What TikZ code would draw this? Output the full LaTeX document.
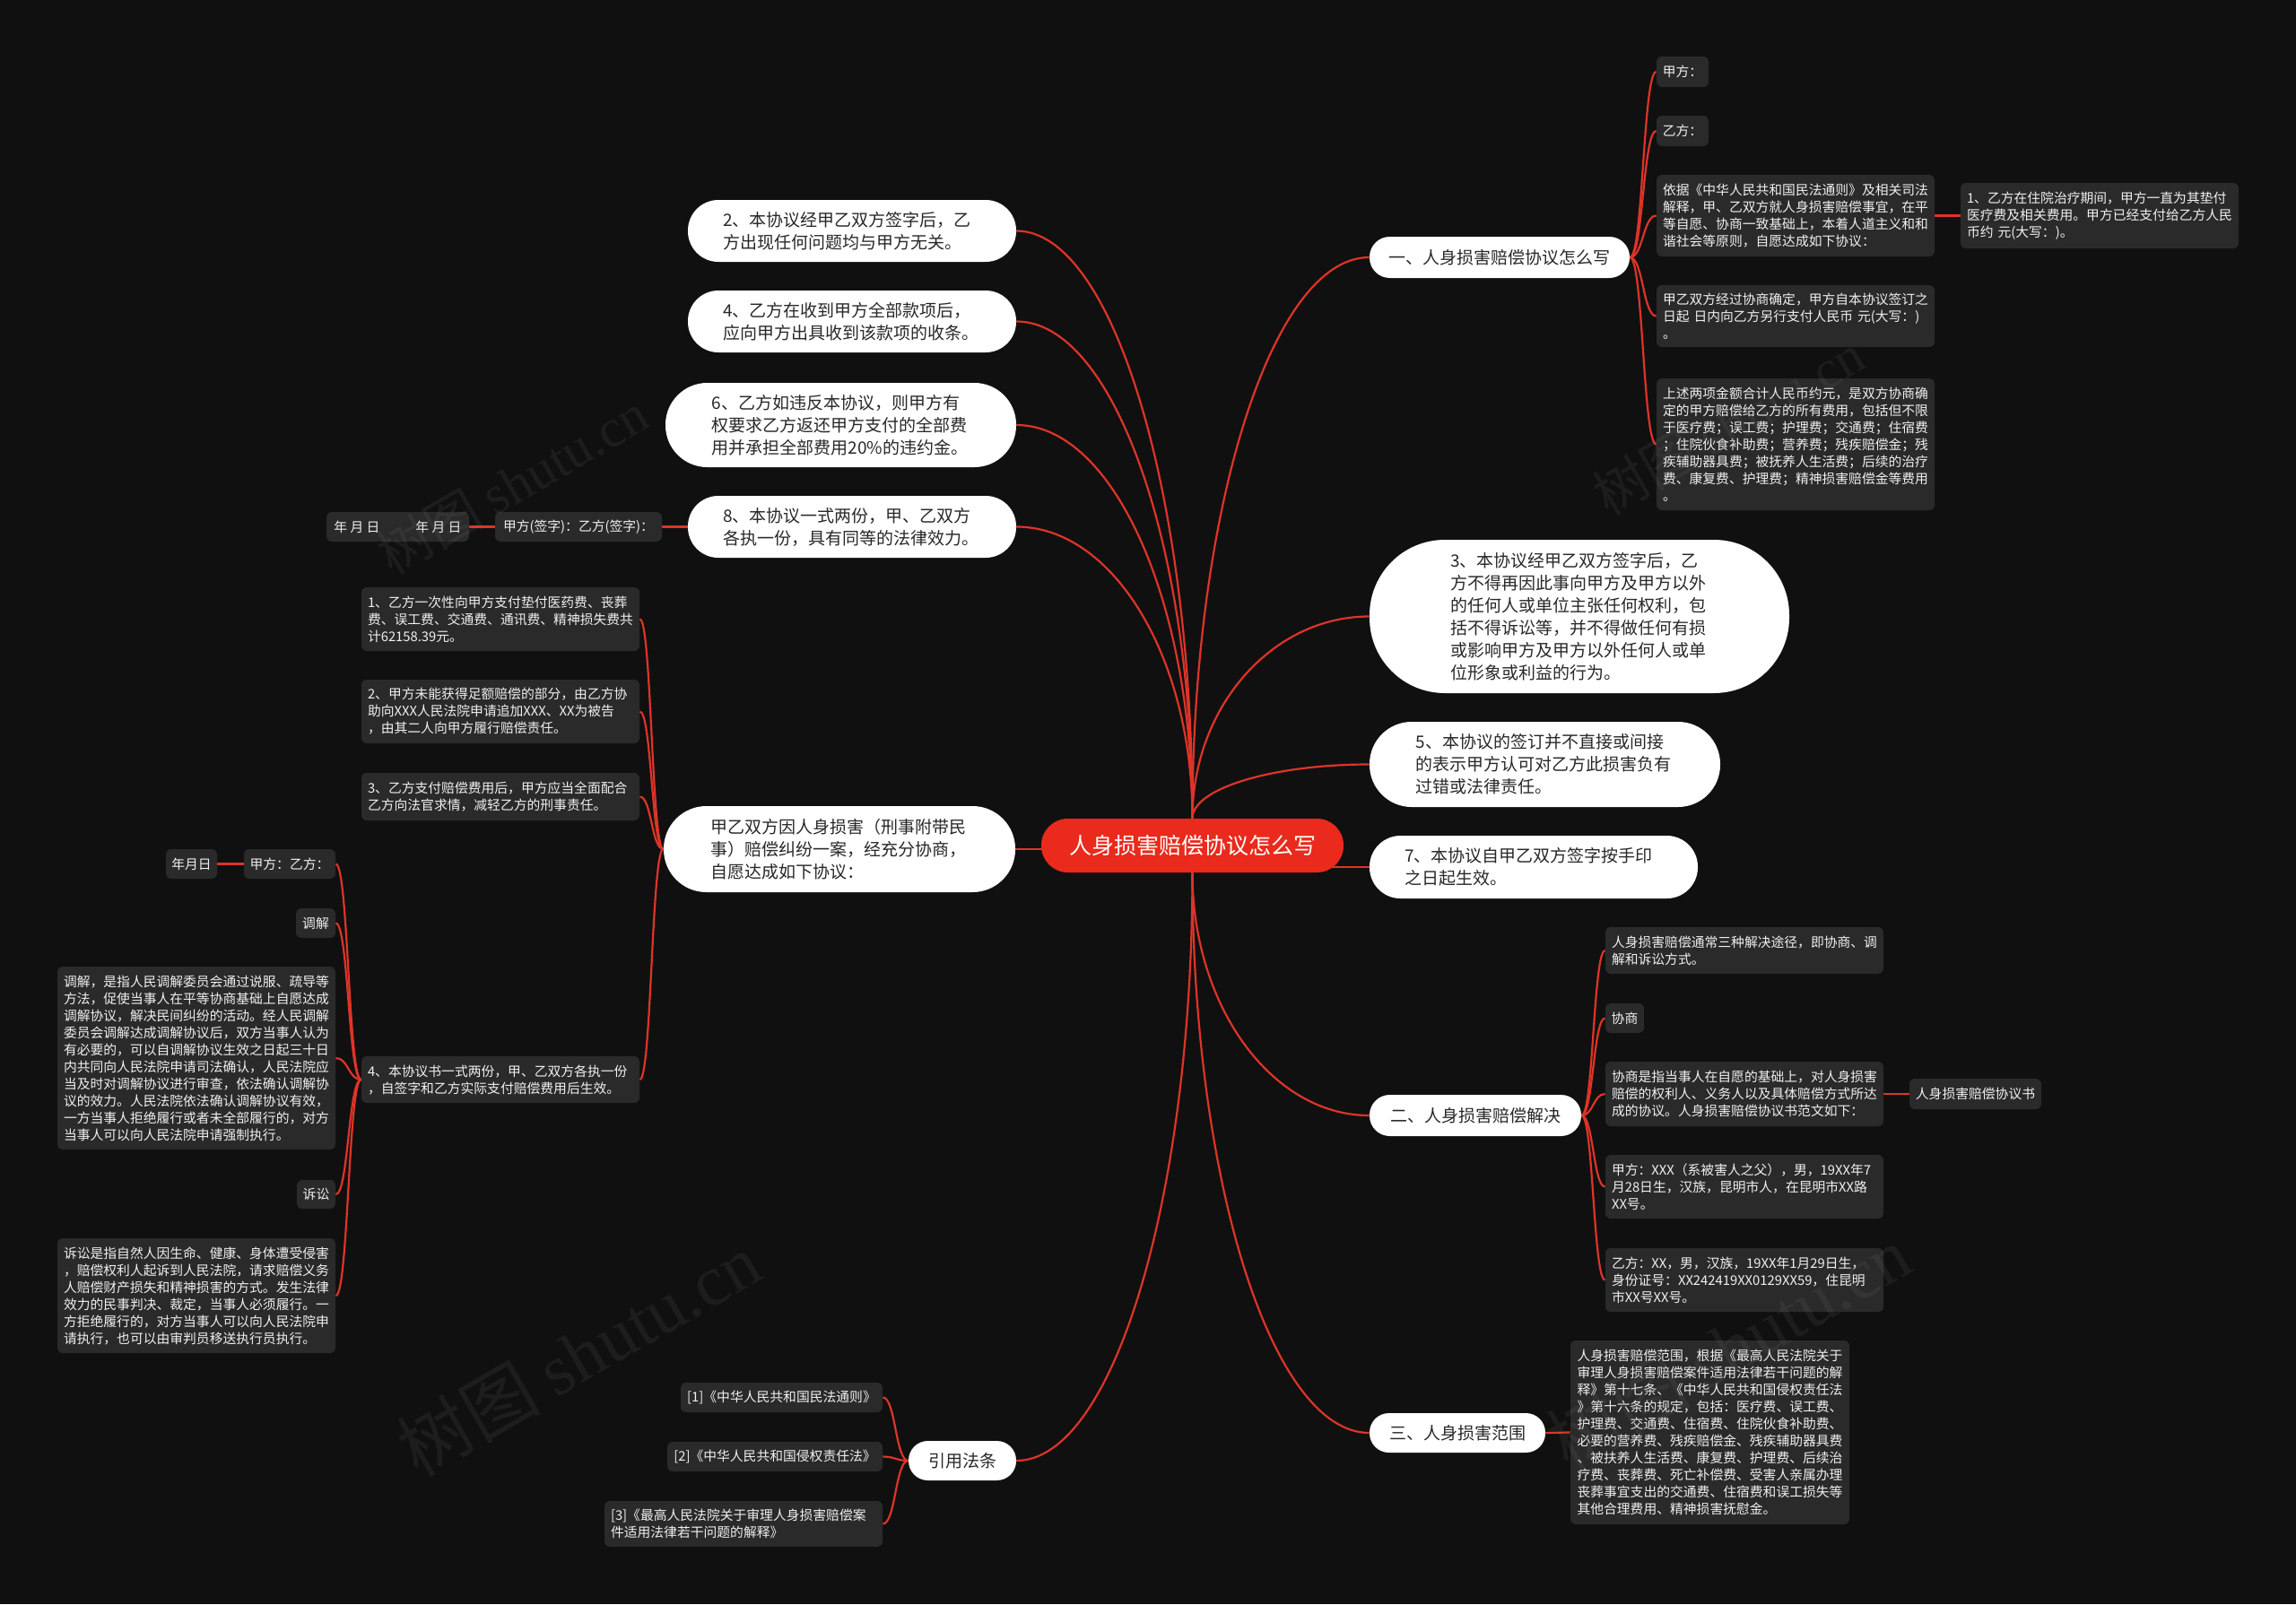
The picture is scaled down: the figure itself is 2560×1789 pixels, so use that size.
\documentclass[tikz,border=0pt]{standalone}
\usepackage{fontspec}
\setmainfont{Noto Sans CJK SC}
\newfontfamily\wmlatin{Liberation Serif}
\usetikzlibrary{calc}
\pgfdeclarelayer{bg}
\pgfsetlayers{bg,main}
\definecolor{bgc}{RGB}{16,16,16}
\definecolor{boxc}{RGB}{42,42,42}
\definecolor{redc}{RGB}{233,42,28}
\definecolor{edgec}{RGB}{222,52,40}
\definecolor{pilltext}{RGB}{40,40,40}
\definecolor{boxtext}{RGB}{240,240,240}
\tikzset{
  bx/.style n args={4}{at={($(#1,#2)!0.5!(#3,#4)$)}, minimum width={(#3-#1)*0.5pt}, minimum height={(#4-#2)*0.5pt}},
  edge/.style={draw=edgec, line width=1.1pt},
  dbox/.style={rectangle, rounded corners=3pt, fill=boxc, text=boxtext, inner sep=0pt, align=left, font=\fontsize{7.4}{9.5}\selectfont},
  dboxm/.style={dbox, text width=148pt},
  pill/.style={rectangle, fill=white, text=pilltext, inner sep=0pt, align=left, font=\fontsize{9.5}{12.5}\selectfont},
  pillm/.style={pill, text width=144pt},
  rootn/.style={rectangle, rounded corners=14.8pt, fill=redc, text=white, inner sep=0pt, font=\fontsize{12.5}{15}\selectfont},
  wm/.style={text=gray, opacity=0.12, rotate=30, inner sep=0pt}
}
\newcommand\brk[2]{\draw[edge] (#1) .. controls ($(#1)!0.5!(#1 -| #2)$) and ($(#2)!0.5!(#2 -| #1)$) .. (#2);}
\newcommand\rootedge[2]{\draw[edge] (#1) .. controls ($(#1)!0.55!(#1 |- #2)$) and ($(#2)!0.55!(#1 |- #2)$) .. (#2);}
\begin{document}
\begin{tikzpicture}[x=0.5pt,y=-0.5pt]
\useasboundingbox (0,0) rectangle (2560,1789);
\begin{pgfonlayer}{bg}
\fill[bgc] (0,0) rectangle (2560,1789);
\end{pgfonlayer}

% root
\node[rootn, bx={1161}{913}{1498}{973}] (root) {人身损害赔偿协议怎么写};

% right branch 1
\node[pill, rounded corners=11.3pt, bx={1527}{264}{1817}{310}] (r1) {一、人身损害赔偿协议怎么写};
\node[dbox, bx={1847}{63}{1905}{97}] (a1) {甲方：};
\node[dbox, bx={1847}{129}{1905}{163}] (a2) {乙方：};
\node[dboxm, bx={1847}{195}{2157}{286}] (a3) {依据《中华人民共和国民法通则》及相关司法\\解释，甲、乙双方就人身损害赔偿事宜，在平\\等自愿、协商一致基础上，本着人道主义和和\\谐社会等原则，自愿达成如下协议：};
\node[dboxm, bx={2186}{204}{2496}{277}] (a3c) {1、乙方在住院治疗期间，甲方一直为其垫付\\医疗费及相关费用。甲方已经支付给乙方人民\\币约 元(大写：)。};
\node[dboxm, bx={1847}{318}{2157}{387}] (a4) {甲乙双方经过协商确定，甲方自本协议签订之\\日起 日内向乙方另行支付人民币 元(大写：)\\。};
\node[dboxm, bx={1847}{422}{2157}{569}] (a5) {上述两项金额合计人民币约元，是双方协商确\\定的甲方赔偿给乙方的所有费用，包括但不限\\于医疗费；误工费；护理费；交通费；住宿费\\；住院伙食补助费；营养费；残疾赔偿金；残\\疾辅助器具费；被抚养人生活费；后续的治疗\\费、康复费、护理费；精神损害赔偿金等费用\\。};

\node[pillm, rounded corners=42pt, bx={1527}{602}{1995}{773}] (r3) {3、本协议经甲乙双方签字后，乙\\方不得再因此事向甲方及甲方以外\\的任何人或单位主张任何权利，包\\括不得诉讼等，并不得做任何有损\\或影响甲方及甲方以外任何人或单\\位形象或利益的行为。};
\node[pillm, rounded corners=23.5pt, bx={1527}{805}{1918}{900}] (r5) {5、本协议的签订并不直接或间接\\的表示甲方认可对乙方此损害负有\\过错或法律责任。};
\node[pillm, rounded corners=17.3pt, bx={1527}{932}{1893}{1002}] (r7) {7、本协议自甲乙双方签字按手印\\之日起生效。};

% right branch 2
\node[pill, rounded corners=11.3pt, bx={1527}{1221}{1763}{1267}] (r2) {二、人身损害赔偿解决};
\node[dboxm, bx={1790}{1034}{2100}{1086}] (b1) {人身损害赔偿通常三种解决途径，即协商、调\\解和诉讼方式。};
\node[dbox, bx={1790}{1119}{1833}{1152}] (b2) {协商};
\node[dboxm, bx={1790}{1184}{2100}{1256}] (b3) {协商是指当事人在自愿的基础上，对人身损害\\赔偿的权利人、义务人以及具体赔偿方式所达\\成的协议。人身损害赔偿协议书范文如下：};
\node[dbox, bx={2129}{1203}{2276}{1237}] (b3c) {人身损害赔偿协议书};
\node[dboxm, bx={1790}{1288}{2100}{1359}] (b4) {甲方：XXX（系被害人之父），男，19XX年7\\月28日生，汉族，昆明市人，在昆明市XX路\\XX号。};
\node[dboxm, bx={1790}{1392}{2100}{1463}] (b5) {乙方：XX，男，汉族，19XX年1月29日生，\\身份证号：XX242419XX0129XX59，住昆明\\市XX号XX号。};

% right branch 3
\node[pill, rounded corners=10.8pt, bx={1527}{1576}{1723}{1620}] (r4) {三、人身损害范围};
\node[dboxm, bx={1751}{1495}{2062}{1700}] (c1) {人身损害赔偿范围，根据《最高人民法院关于\\审理人身损害赔偿案件适用法律若干问题的解\\释》第十七条、《中华人民共和国侵权责任法\\》第十六条的规定，包括：医疗费、误工费、\\护理费、交通费、住宿费、住院伙食补助费、\\必要的营养费、残疾赔偿金、残疾辅助器具费\\、被扶养人生活费、康复费、护理费、后续治\\疗费、丧葬费、死亡补偿费、受害人亲属办理\\丧葬事宜支出的交通费、住宿费和误工损失等\\其他合理费用、精神损害抚慰金。};

% left branches
\node[pillm, rounded corners=17pt, bx={767}{223}{1133}{292}] (l2) {2、本协议经甲乙双方签字后，乙\\方出现任何问题均与甲方无关。};
\node[pillm, rounded corners=17pt, bx={767}{324}{1133}{393}] (l4) {4、乙方在收到甲方全部款项后，\\应向甲方出具收到该款项的收条。};
\node[pillm, rounded corners=23.3pt, bx={742}{427}{1133}{521}] (l6) {6、乙方如违反本协议，则甲方有\\权要求乙方返还甲方支付的全部费\\用并承担全部费用20\%的违约金。};
\node[pillm, rounded corners=17pt, bx={767}{553}{1133}{622}] (l8) {8、本协议一式两份，甲、乙双方\\各执一份，具有同等的法律效力。};
\node[dbox, bx={552}{571}{738}{604}] (d1) {甲方(签字)：乙方(签字)：};
\node[dbox, bx={364}{571}{523}{604}] (d1c) {年 月 日\hspace{2.7em}年 月 日};

\node[pillm, rounded corners=23.8pt, bx={740}{899}{1132}{995}] (lj) {甲乙双方因人身损害（刑事附带民\\事）赔偿纠纷一案，经充分协商，\\自愿达成如下协议：};
\node[dboxm, bx={403}{655}{713}{726}] (e1) {1、乙方一次性向甲方支付垫付医药费、丧葬\\费、误工费、交通费、通讯费、精神损失费共\\计62158.39元。};
\node[dboxm, bx={403}{758}{713}{829}] (e2) {2、甲方未能获得足额赔偿的部分，由乙方协\\助向XXX人民法院申请追加XXX、XX为被告\\，由其二人向甲方履行赔偿责任。};
\node[dboxm, bx={403}{862}{713}{915}] (e3) {3、乙方支付赔偿费用后，甲方应当全面配合\\乙方向法官求情，减轻乙方的刑事责任。};
\node[dboxm, bx={403}{1178}{713}{1230}] (e4) {4、本协议书一式两份，甲、乙双方各执一份\\，自签字和乙方实际支付赔偿费用后生效。};
\node[dbox, bx={272}{947}{374}{980}] (f1) {甲方：乙方：};
\node[dbox, bx={185}{947}{242}{980}] (f1c) {年月日};
\node[dbox, bx={330}{1013}{374}{1046}] (f2) {调解};
\node[dboxm, bx={64}{1078}{374}{1282}] (f3) {调解，是指人民调解委员会通过说服、疏导等\\方法，促使当事人在平等协商基础上自愿达成\\调解协议，解决民间纠纷的活动。经人民调解\\委员会调解达成调解协议后，双方当事人认为\\有必要的，可以自调解协议生效之日起三十日\\内共同向人民法院申请司法确认，人民法院应\\当及时对调解协议进行审查，依法确认调解协\\议的效力。人民法院依法确认调解协议有效，\\一方当事人拒绝履行或者未全部履行的，对方\\当事人可以向人民法院申请强制执行。};
\node[dbox, bx={331}{1316}{374}{1348}] (f4) {诉讼};
\node[dboxm, bx={64}{1381}{374}{1509}] (f5) {诉讼是指自然人因生命、健康、身体遭受侵害\\，赔偿权利人起诉到人民法院，请求赔偿义务\\人赔偿财产损失和精神损害的方式。发生法律\\效力的民事判决、裁定，当事人必须履行。一\\方拒绝履行的，对方当事人可以向人民法院申\\请执行，也可以由审判员移送执行员执行。};

\node[pill, rounded corners=10.8pt, bx={1013}{1607}{1133}{1651}] (ly) {引用法条};
\node[dbox, bx={759}{1542}{984}{1575}] (g1) {[1]《中华人民共和国民法通则》};
\node[dbox, bx={744}{1608}{984}{1641}] (g2) {[2]《中华人民共和国侵权责任法》};
\node[dboxm, bx={674}{1674}{984}{1725}] (g3) {[3]《最高人民法院关于审理人身损害赔偿案\\件适用法律若干问题的解释》};

% connectors
\begin{pgfonlayer}{bg}
\rootedge{root.north}{r1.west}
\rootedge{root.north}{r3.west}
\rootedge{root.north}{r5.west}
\rootedge{root.north}{l2.east}
\rootedge{root.north}{l4.east}
\rootedge{root.north}{l6.east}
\rootedge{root.north}{l8.east}
\rootedge{root.south}{r2.west}
\rootedge{root.south}{r4.west}
\rootedge{root.south}{ly.east}
\draw[edge] (root.center |- r7.west) -- (r7.west);
\draw[edge] (root.center |- lj.east) -- (lj.east);

\brk{r1.east}{a1.west}
\brk{r1.east}{a2.west}
\brk{r1.east}{a3.west}
\brk{r1.east}{a4.west}
\brk{r1.east}{a5.west}
\brk{a3.east}{a3c.west}

\brk{r2.east}{b1.west}
\brk{r2.east}{b2.west}
\brk{r2.east}{b3.west}
\brk{r2.east}{b4.west}
\brk{r2.east}{b5.west}
\brk{b3.east}{b3c.west}

\brk{r4.east}{c1.west}

\brk{l8.west}{d1.east}
\brk{d1.west}{d1c.east}

\brk{lj.west}{e1.east}
\brk{lj.west}{e2.east}
\brk{lj.west}{e3.east}
\brk{lj.west}{e4.east}
\brk{e4.west}{f1.east}
\brk{f1.west}{f1c.east}
\brk{e4.west}{f2.east}
\brk{e4.west}{f3.east}
\brk{e4.west}{f4.east}
\brk{e4.west}{f5.east}

\brk{ly.west}{g1.east}
\brk{ly.west}{g2.east}
\brk{ly.west}{g3.east}
\end{pgfonlayer}

% watermarks
\node[wm, font=\fontsize{30}{34}\selectfont] (wm1) at (571,539) {树图 {\wmlatin shutu.cn}};
\node[wm, font=\fontsize{30}{34}\selectfont] (wm2) at (1927,473) {树图 {\wmlatin shutu.cn}};
\node[wm, font=\fontsize{40}{44}\selectfont] (wm3) at (645,1510) {树图 {\wmlatin shutu.cn}};
\node[wm, font=\fontsize{40}{44}\selectfont] (wm4) at (1927,1502) {树图 {\wmlatin shutu.cn}};
\end{tikzpicture}
\end{document}
